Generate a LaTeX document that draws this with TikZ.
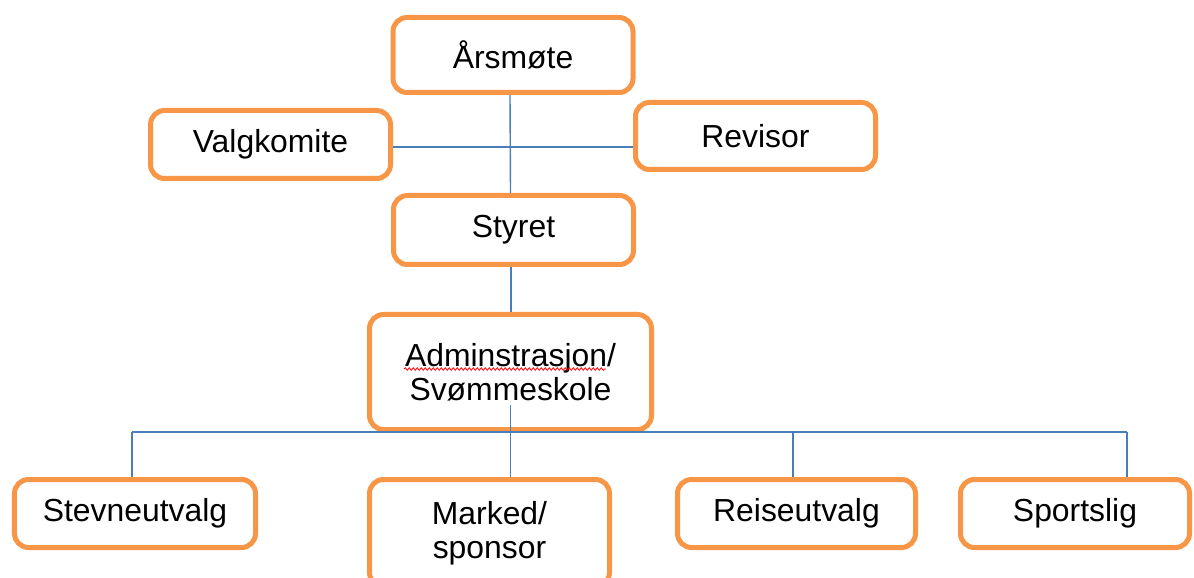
\documentclass[tikz,border=0pt]{standalone}
\usepackage{fontspec}
\setmainfont{Liberation Sans}
\usetikzlibrary{decorations.pathmorphing}
\definecolor{boxorange}{HTML}{F79646}
\definecolor{linkblue}{HTML}{4A7EBB}
\begin{document}
\begin{tikzpicture}[x=1bp,y=-1bp,
  orgbox/.style={draw=boxorange, line width=5bp, rounded corners=14bp, fill=white,
    inner sep=0pt, align=center, font=\fontsize{32}{34}\selectfont, text=black},
  link/.style={draw=linkblue, line width=1.4bp}]
\useasboundingbox (0,0) rectangle (1194,578);
\begin{scope}
\clip (0,0) rectangle (1194,578);
\node[orgbox, minimum width=240bp, minimum height=75bp] (ars) at (513,55) {Årsmøte};
\node[orgbox, minimum width=240bp, minimum height=68bp] (val) at (270.5,144.5) {Valgkomite};
\node[orgbox, minimum width=240bp, minimum height=67bp] (rev) at (755.5,136) {Revisor};
\node[orgbox, minimum width=240bp, minimum height=69bp] (sty) at (513.5,230) {Styret};
\node[orgbox, minimum width=282bp, minimum height=115bp] (adm) at (510.5,372) {Adminstrasjon/\\Svømmeskole};
\node[orgbox, minimum width=241bp, minimum height=68bp] (ste) at (135,513.5) {Stevneutvalg};
\node[orgbox, minimum width=240bp, minimum height=107bp] (mar) at (489.5,533) {Marked/\\sponsor};
\node[orgbox, minimum width=238bp, minimum height=68bp] (rei) at (796.5,513.5) {Reiseutvalg};
\node[orgbox, minimum width=229bp, minimum height=68bp] (spo) at (1075,513.5) {Sportslig};
\end{scope}
\coordinate (hline) at (0,147);
\coordinate (busL) at (132,432);
\coordinate (busR) at (1127,432);
\coordinate (busM) at (793,432);
\draw[link] ([xshift=-3bp]ars.south) -- ([xshift=-3bp]sty.north);
\draw[link] (val.east |- hline) -- (rev.west |- hline);
\draw[link] ([xshift=-2.5bp]sty.south) -- ([xshift=-2.5bp]sty.south |- adm.north);
\draw[link] ([yshift=27bp]adm.south) -- (adm.south |- mar.north);
\draw[link] (busL) -- (busR);
\draw[link] (busL) -- (busL |- ste.north);
\draw[link] (busM) -- (busM |- rei.north);
\draw[link] (busR) -- (busR |- spo.north);
\draw[red, line width=0.8bp, decorate, decoration={snake, amplitude=1.2bp, segment length=4bp}]
  (404,369) -- (606,369);
\end{tikzpicture}
\end{document}
